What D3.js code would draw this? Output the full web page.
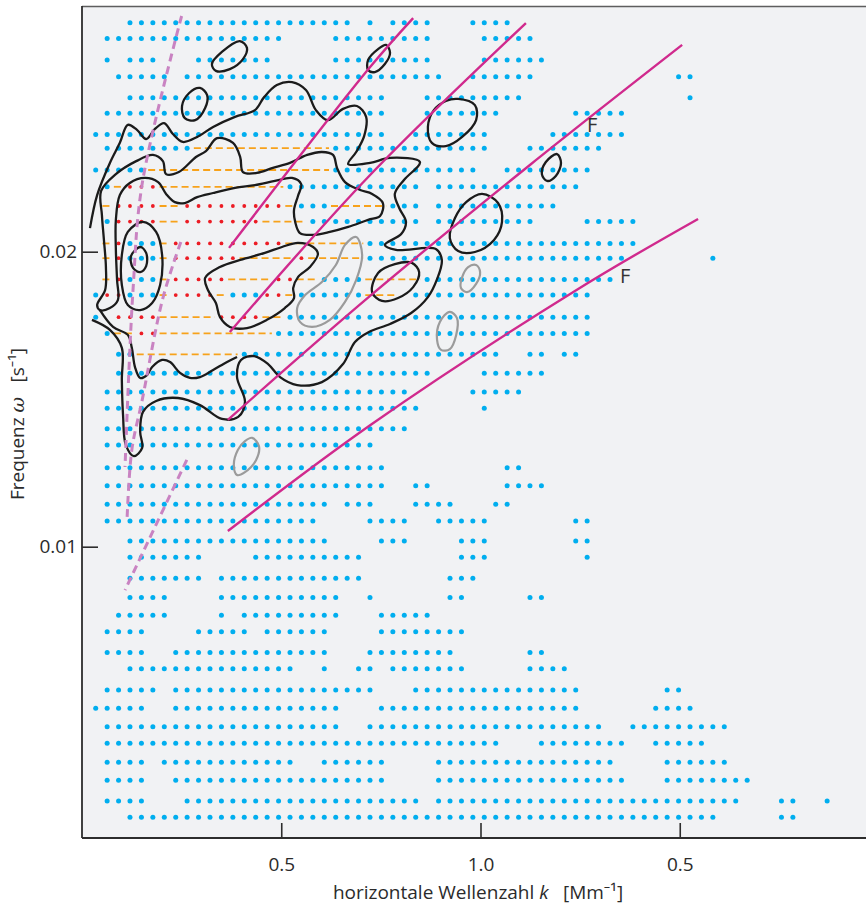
<!DOCTYPE html>
<html>
<head>
<meta charset="utf-8">
<script src="https://cdn.jsdelivr.net/npm/d3@7"></script>
<style>
  body { margin: 0; background: #fff; }
  svg { display: block; }
</style>
</head>
<body>
<div id="chart"></div>
<script>
// k grid of the spectrum (Mm^-1)
const kBins = [0.0344,0.0631,0.0918,0.1204,0.1491,0.1778,0.2065,0.2352,0.2638,0.2925,
  0.3212,0.3499,0.3786,0.4072,0.4359,0.4646,0.4933,0.5220,0.5506,0.5793,
  0.6080,0.6367,0.6654,0.6940,0.7227,0.7514,0.7801,0.8088,0.8374,0.8661,
  0.8948,0.9235,0.9522,0.9808,1.0095,1.0382,1.0669,1.0956,1.1242,1.1529,
  1.1816,1.2103,1.2390,1.2676,1.2963,1.3250,1.3537,1.3824,1.4110,1.4397,
  1.4684,1.4971,1.5258,1.5544,1.5831,1.6118,1.6405,1.6692,1.6978,1.7265,
  1.7552,1.7839,1.8126,1.8412,1.8699,1.8986,1.9273,1.9560];

// omega rows (s^-1), top to bottom
const omegaRows = [0.02776,0.02723,0.02650,0.02593,0.02522,0.02469,0.02397,0.02351,0.02277,0.02220,
  0.02155,0.02102,0.02028,0.01978,0.01906,0.01853,0.01778,0.01723,0.01652,0.01588,
  0.01524,0.01469,0.01400,0.01345,0.01268,0.01207,0.01144,0.01087,0.01019,0.00964,
  0.00893,0.00828,0.00768,0.00712,0.00641,0.00586,0.00514,0.00452,0.00390,0.00334,
  0.00269,0.00208,0.00138,0.00083];

// occupied k-bins per omega row (column index ranges)
const blueRows = [
  "3-22,24,26-29,33-36", "1-16,21-29,34-38", "1,3-5,9-15,21-29,34-39", "2-6,8-30,33-38,51-52",
  "3-25,29-37,52", "1-25,29-35,42-46", "0-25,28-34,40-46", "1-8,21-34,38-44",
  "0-4,21-33,36-43", "1,17-28,30-42", "18-20,26-28,30-40", "1,19-28,30-38,43-47",
  "3-5,24-47", "3-5,24-46,54", "3-5,20-23,29-45", "0,3-5,12-14,18-23,28-43",
  "0,17-43", "1,16-43", "2-3,13-35,38-39,41-42", "2-29,34-39",
  "1-27,33-37", "1-28,34", "1-27", "1-24",
  "1-25,36-37", "1-25,28-29,36-39", "1-20,22-24,28-31,35-36", "1-19,24-27,30-34,42-43",
  "3-20,25-27,32-34,42-43", "3-9,14-23,32-34,43", "3-9,11-23,31-33", "3-6,11-21,24,31-32,38-39",
  "2-6,11,13-21,25-29", "1-4,9-13,15-20,25-32", "1-4,7-20,24-31,38-39", "3-17,20,23-24,26-32,38-41",
  "1-5,7-24,28-42,50-51", "0-4,7-21,25-42,49-52", "1-21,24-44,47-55", "1-35,39-46,49-53",
  "1-4,6-17,20-25,30-45,50-55", "1-4,7-25,30-46,50-57", "1-4,8-28,30-56,60-61,64", "3-54,60-61"
];
const redRows = ["","","","","","","","","","3-5","2-5,8-16","2-5,8-14","2,7-16","2,7-12,18",
  "2,7-11,16-17","1-2,7-10,15-16","2-5,11-14","4-5"];
const orangeRows = ["","","","","","","","9-20","5-20","2,6-16","1,6-7,17,21-25","6-7,15-18",
  "1,6,17-23","1,6,13-17,19-23","1,6,12-15,18-19,24-28","6,11,17,24-26","6-10,15-16","2-3,6-15","4-12"];

// contour lines [k, omega]
const outerContour = [[0.020,0.02080],[0.038,0.02192],[0.070,0.02301],[0.095,0.02369],[0.115,0.02430],[0.138,0.02413],[0.161,0.02382],[0.183,0.02416],[0.206,0.02436],[0.228,0.02399],[0.253,0.02372],[0.289,0.02389],[0.329,0.02423],[0.384,0.02457],[0.434,0.02480],[0.457,0.02524],[0.489,0.02565],[0.527,0.02575],[0.562,0.02548],[0.587,0.02480],[0.617,0.02446],[0.655,0.02484],[0.690,0.02494],[0.713,0.02457],[0.708,0.02392],[0.688,0.02338],[0.668,0.02297],[0.723,0.02301],[0.773,0.02318],[0.848,0.02304],[0.808,0.02243],[0.785,0.02196],[0.796,0.02148],[0.813,0.02101],[0.801,0.02060],[0.760,0.02023],[0.788,0.02006],[0.888,0.02009],[0.903,0.01972],[0.891,0.01907],[0.868,0.01846],[0.826,0.01792],[0.773,0.01755],[0.720,0.01728],[0.685,0.01694],[0.655,0.01619],[0.602,0.01558],[0.540,0.01548],[0.497,0.01575],[0.467,0.01619],[0.432,0.01646],[0.399,0.01633],[0.389,0.01575],[0.409,0.01491],[0.392,0.01440],[0.351,0.01433],[0.296,0.01480],[0.241,0.01504],[0.186,0.01494],[0.153,0.01457],[0.146,0.01389],[0.151,0.01335],[0.130,0.01307],[0.110,0.01345],[0.103,0.01446],[0.100,0.01565],[0.100,0.01674],[0.070,0.01735],[0.025,0.01769]];
const innerContour = [[0.038,0.01819],[0.058,0.01870],[0.060,0.01948],[0.055,0.02040],[0.050,0.02124],[0.048,0.02206],[0.085,0.02263],[0.136,0.02307],[0.178,0.02328],[0.203,0.02307],[0.211,0.02263],[0.243,0.02270],[0.286,0.02321],[0.311,0.02341],[0.339,0.02385],[0.379,0.02369],[0.397,0.02321],[0.404,0.02270],[0.439,0.02267],[0.479,0.02284],[0.522,0.02301],[0.565,0.02328],[0.602,0.02338],[0.630,0.02328],[0.640,0.02284],[0.660,0.02236],[0.698,0.02209],[0.728,0.02196],[0.755,0.02165],[0.748,0.02121],[0.718,0.02108],[0.668,0.02084],[0.622,0.02067],[0.580,0.02057],[0.547,0.02063],[0.535,0.02101],[0.532,0.02141],[0.542,0.02189],[0.550,0.02229],[0.527,0.02250],[0.484,0.02240],[0.434,0.02226],[0.384,0.02216],[0.329,0.02199],[0.289,0.02185],[0.258,0.02165],[0.233,0.02168],[0.211,0.02196],[0.191,0.02236],[0.158,0.02250],[0.120,0.02233],[0.095,0.02192],[0.085,0.02108],[0.085,0.02006],[0.088,0.01904],[0.090,0.01836],[0.070,0.01809],[0.045,0.01802]];
const lowerContour = [[0.045,0.01802],[0.078,0.01745],[0.115,0.01718],[0.125,0.01674],[0.133,0.01609],[0.146,0.01572],[0.163,0.01582],[0.176,0.01609],[0.201,0.01633],[0.221,0.01626],[0.246,0.01589],[0.271,0.01572],[0.296,0.01575],[0.329,0.01599],[0.364,0.01626],[0.389,0.01643]];
const closedBlack = [
  [[0.309,0.01911],[0.346,0.01948],[0.397,0.01972],[0.459,0.01996],[0.502,0.02016],[0.542,0.02030],[0.580,0.02016],[0.592,0.01992],[0.572,0.01948],[0.542,0.01914],[0.530,0.01877],[0.532,0.01843],[0.509,0.01809],[0.464,0.01769],[0.414,0.01741],[0.371,0.01745],[0.346,0.01779],[0.336,0.01826],[0.316,0.01870]],
  [[0.153,0.02101],[0.186,0.02067],[0.201,0.01989],[0.196,0.01887],[0.176,0.01826],[0.146,0.01802],[0.115,0.01819],[0.100,0.01887],[0.100,0.01989],[0.115,0.02067]],
  [[0.146,0.02016],[0.161,0.01996],[0.161,0.01951],[0.146,0.01931],[0.128,0.01945],[0.123,0.01985]],
  [[0.396,0.02714],[0.414,0.02691],[0.404,0.02653],[0.371,0.02619],[0.336,0.02613],[0.326,0.02636],[0.351,0.02677]],
  [[0.296,0.02555],[0.314,0.02531],[0.309,0.02487],[0.284,0.02446],[0.258,0.02453],[0.251,0.02494],[0.269,0.02538]],
  [[0.763,0.02701],[0.773,0.02674],[0.760,0.02636],[0.735,0.02609],[0.718,0.02616],[0.718,0.02650],[0.743,0.02687]],
  [[0.944,0.02518],[0.986,0.02497],[0.989,0.02446],[0.954,0.02389],[0.913,0.02358],[0.878,0.02369],[0.868,0.02423],[0.883,0.02480],[0.913,0.02511]],
  [[1.192,0.02331],[1.202,0.02301],[1.189,0.02257],[1.167,0.02240],[1.154,0.02263],[1.164,0.02304]],
  [[1.004,0.02196],[1.044,0.02165],[1.054,0.02101],[1.034,0.02040],[0.986,0.01999],[0.944,0.02002],[0.923,0.02046],[0.936,0.02114],[0.964,0.02168]],
  [[0.728,0.01863],[0.743,0.01928],[0.785,0.01958],[0.828,0.01962],[0.846,0.01931],[0.831,0.01880],[0.793,0.01843],[0.753,0.01833]]
];
const grayContours = [
  [[0.688,0.02050],[0.703,0.01989],[0.688,0.01904],[0.660,0.01830],[0.622,0.01769],[0.577,0.01745],[0.547,0.01762],[0.540,0.01809],[0.560,0.01853],[0.602,0.01897],[0.637,0.01955],[0.660,0.02023]],
  [[0.989,0.01955],[0.999,0.01931],[0.989,0.01891],[0.966,0.01863],[0.951,0.01877],[0.954,0.01914],[0.969,0.01948]],
  [[0.923,0.01796],[0.941,0.01775],[0.939,0.01718],[0.923,0.01670],[0.901,0.01667],[0.891,0.01701],[0.898,0.01762]],
  [[0.427,0.01369],[0.444,0.01341],[0.437,0.01294],[0.409,0.01253],[0.389,0.01243],[0.381,0.01277],[0.391,0.01328],[0.409,0.01358]]
];

// mode ridges (solid) and dashed guide lines
const ridgeLines = [
  [[0.369,0.02013],[0.723,0.02626],[0.831,0.02792]],
  [[0.371,0.01728],[0.723,0.02260],[1.114,0.02775]],
  [[0.366,0.01430],[0.723,0.01850],[1.124,0.02294],[1.506,0.02701]],
  [[0.366,0.01053],[0.723,0.01412],[1.237,0.01867],[1.546,0.02111]]
];
const dashedLines = [
  [[0.250,0.02799],[0.151,0.02230],[0.128,0.01870],[0.108,0.01270]],
  [[0.248,0.02033],[0.203,0.01843],[0.151,0.01497],[0.125,0.01328],[0.113,0.01091]],
  [[0.263,0.01294],[0.108,0.00853]]
];
const modeLabels = [{k: 1.280, w: 0.02430, t: "F"}, {k: 1.363, w: 0.01921, t: "F"}];

const xTicks = [0.5, 1.0, 1.5];
const xTickLabels = ["0.5", "1.0", "0.5"];
const yTicks = [0.01, 0.02];
const yTickLabels = ["0.01", "0.02"];

const W = 866, H = 905;
const margin = {top: 6, right: 0, bottom: 67, left: 82};
const iw = W - margin.left - margin.right;
const ih = H - margin.top - margin.bottom;
const font = 'Open Sans, Noto Sans, sans-serif';

const svg = d3.select('#chart').append('svg')
  .attr('width', W).attr('height', H);
const g = svg.append('g').attr('transform', `translate(${margin.left},${margin.top})`);

const x = d3.scaleLinear().domain([0, 1.9674]).range([0, iw]);
const y = d3.scaleLinear().domain([0.000125, 0.028329]).range([ih, 0]);

g.append('clipPath').attr('id', 'plot').append('rect').attr('width', iw).attr('height', ih);
g.append('rect').attr('width', iw).attr('height', ih).attr('fill', '#f1f2f4');

const plot = g.append('g').attr('clip-path', 'url(#plot)');

function cols(spec) {
  if (!spec) return [];
  return spec.split(',').flatMap(s => {
    const [a, b] = s.split('-').map(Number);
    return b === undefined ? [a] : d3.range(a, b + 1);
  });
}
function runs(spec) {
  if (!spec) return [];
  return spec.split(',').map(s => {
    const [a, b] = s.split('-').map(Number);
    return [a, b === undefined ? a : b];
  });
}

const blue = blueRows.flatMap((r, i) => cols(r).map(j => [kBins[j], omegaRows[i]]));
const red = redRows.flatMap((r, i) => cols(r).map(j => [kBins[j], omegaRows[i]]));
const orange = orangeRows.flatMap((r, i) => runs(r).map(([a, b]) => [kBins[a], kBins[b], omegaRows[i]]));
const half = (x(kBins[1]) - x(kBins[0])) / 2;

plot.append('g').selectAll('circle').data(blue).join('circle')
  .attr('cx', d => x(d[0])).attr('cy', d => y(d[1])).attr('r', 2.5)
  .attr('fill', '#00aeef');

plot.append('g').selectAll('circle').data(red).join('circle')
  .attr('cx', d => x(d[0])).attr('cy', d => y(d[1])).attr('r', 1.9)
  .attr('fill', '#ec1c24');

plot.append('g').selectAll('line').data(orange).join('line')
  .attr('x1', d => x(d[0]) - half + 1).attr('x2', d => x(d[1]) + half - 1)
  .attr('y1', d => y(d[2])).attr('y2', d => y(d[2]))
  .attr('stroke', '#f7a21b').attr('stroke-width', 1.8).attr('stroke-dasharray', '7,4');

const lineOpen = d3.line().x(d => x(d[0])).y(d => y(d[1])).curve(d3.curveCatmullRom.alpha(0.5));
const lineClosed = d3.line().x(d => x(d[0])).y(d => y(d[1])).curve(d3.curveCatmullRomClosed.alpha(0.5));

plot.append('g').selectAll('path').data(grayContours).join('path')
  .attr('d', lineClosed).attr('fill', 'none').attr('stroke', '#9b9b9b').attr('stroke-width', 2.2);

const blk = plot.append('g').attr('fill', 'none').attr('stroke', '#1b1b1b').attr('stroke-width', 2.3);
blk.selectAll('path.c').data(closedBlack).join('path').attr('class', 'c').attr('d', lineClosed);
blk.append('path').attr('d', lineOpen(outerContour));
blk.append('path').attr('d', lineClosed(innerContour));
blk.append('path').attr('d', lineOpen(lowerContour));

plot.append('g').selectAll('path').data(ridgeLines).join('path')
  .attr('d', lineOpen).attr('fill', 'none').attr('stroke', '#d02a8d').attr('stroke-width', 2.4);

plot.append('g').selectAll('path').data(dashedLines).join('path')
  .attr('d', lineOpen).attr('fill', 'none').attr('stroke', '#c983c2')
  .attr('stroke-width', 3).attr('stroke-dasharray', '8,5');

plot.append('g').selectAll('text').data(modeLabels).join('text')
  .attr('x', d => x(d.k)).attr('y', d => y(d.w))
  .attr('text-anchor', 'middle').attr('dominant-baseline', 'central')
  .attr('font-family', font).attr('font-size', 20).attr('fill', '#333')
  .text(d => d.t);

// frame
g.append('line').attr('x1', 0).attr('x2', iw).attr('y1', 0.5).attr('y2', 0.5)
  .attr('stroke', '#5e5e5e').attr('stroke-width', 1.5);

const xAxis = g.append('g').attr('transform', `translate(0,${ih})`)
  .call(d3.axisBottom(x).tickValues(xTicks).tickSize(-15).tickSizeOuter(0)
    .tickFormat((d, i) => xTickLabels[i]));
const yAxis = g.append('g')
  .call(d3.axisLeft(y).tickValues(yTicks).tickSize(-16).tickSizeOuter(0)
    .tickFormat((d, i) => yTickLabels[i]));

[xAxis, yAxis].forEach(a => {
  a.attr('font-size', null).attr('font-family', null);
  a.select('.domain').attr('stroke', '#2d2d2d').attr('stroke-width', 1.8);
  a.selectAll('.tick line').attr('stroke', '#2d2d2d').attr('stroke-width', 1.6);
  a.selectAll('.tick text').attr('font-family', font)
    .attr('font-size', 19).attr('fill', '#2b2b2b');
});
xAxis.selectAll('.tick text').attr('y', 20).attr('dy', '0.71em');
yAxis.selectAll('.tick text').attr('x', -5);
yAxis.select('.domain').attr('d', `M0,${ih}V0`);
xAxis.select('.domain').attr('d', `M0,0H${iw}`);

const xt = svg.append('text').attr('x', 478).attr('y', 899)
  .attr('text-anchor', 'middle').attr('font-family', font)
  .attr('font-size', 19).attr('fill', '#2b2b2b');
xt.append('tspan').text('horizontale Wellenzahl ');
xt.append('tspan').attr('font-style', 'italic').text('k');
xt.append('tspan').text('\u2002 [Mm\u207B\u00B9]');

const yt = svg.append('text').attr('transform', 'translate(24,424) rotate(-90)')
  .attr('text-anchor', 'middle').attr('font-family', font)
  .attr('font-size', 19).attr('fill', '#2b2b2b');
yt.append('tspan').text('Frequenz ');
yt.append('tspan').attr('font-family', 'DejaVu Serif, serif').attr('font-style', 'italic').text('\u03C9');
yt.append('tspan').text('\u2002 [s\u207B\u00B9]');
</script>
</body>
</html>
